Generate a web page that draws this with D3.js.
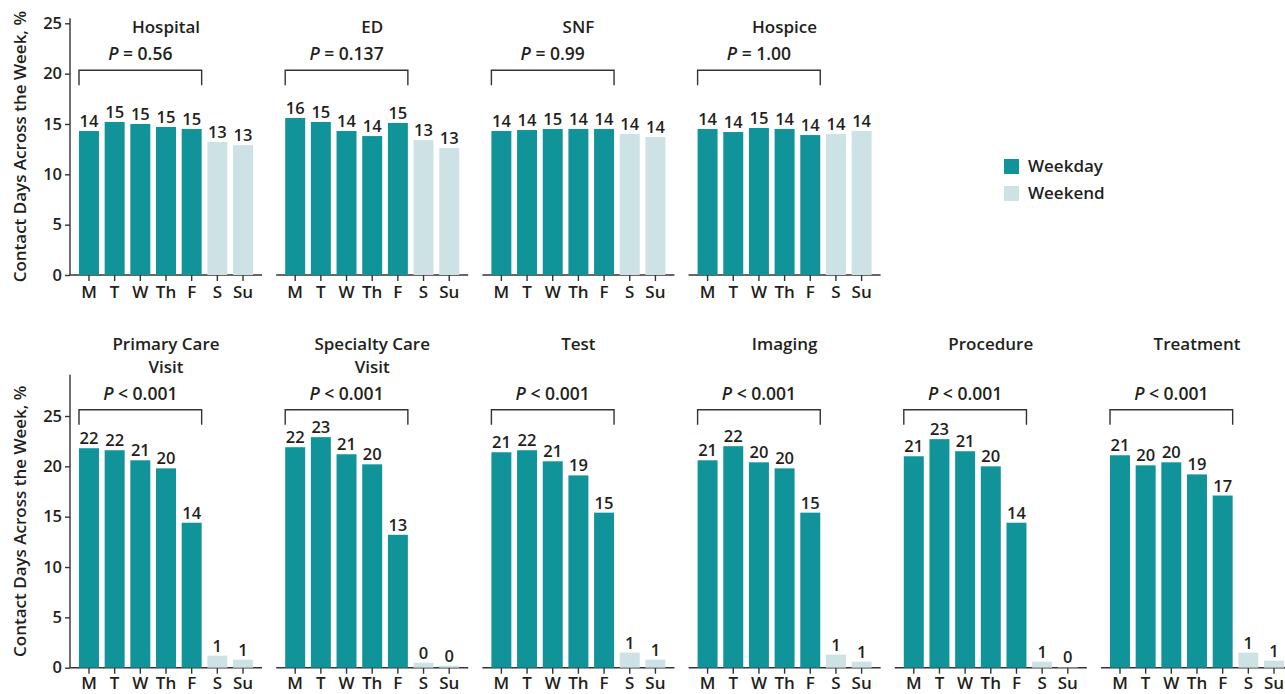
<!DOCTYPE html>
<html lang="en">
<head>
  <meta charset="UTF-8">
  <title>Contact Days Across the Week</title>
  <script src="https://d3js.org/d3.v7.min.js"></script>
  <style>
    body { margin: 0; background: #fff; }
    text { font-family: "Open Sans", "Noto Sans", sans-serif; fill: #231f20; }
    .axis path, .axis line { stroke: #333; stroke-width: 1.4; }
    .axis text { font-size: 16px; font-weight: 600; fill: #231f20; }
  </style>
</head>
<body>
  <script>
    const days = ["M", "T", "W", "Th", "F", "S", "Su"];
    const weekend = ["S", "Su"];
    const yTicks = [0, 5, 10, 15, 20, 25];

    const topTitles = [["Hospital"], ["ED"], ["SNF"], ["Hospice"]];
    const topP = ["= 0.56", "= 0.137", "= 0.99", "= 1.00"];
    const topValues = [
      [14.3, 15.2, 15.0, 14.7, 14.5, 13.2, 12.9],
      [15.6, 15.2, 14.3, 13.8, 15.1, 13.4, 12.6],
      [14.3, 14.4, 14.5, 14.5, 14.5, 14.0, 13.7],
      [14.5, 14.2, 14.6, 14.5, 13.9, 14.0, 14.3]
    ];
    const topLabels = [
      [14, 15, 15, 15, 15, 13, 13],
      [16, 15, 14, 14, 15, 13, 13],
      [14, 14, 15, 14, 14, 14, 14],
      [14, 14, 15, 14, 14, 14, 14]
    ];

    const bottomTitles = [["Primary Care", "Visit"], ["Specialty Care", "Visit"], ["Test"], ["Imaging"], ["Procedure"], ["Treatment"]];
    const bottomP = ["< 0.001", "< 0.001", "< 0.001", "< 0.001", "< 0.001", "< 0.001"];
    const bottomValues = [
      [21.8, 21.6, 20.6, 19.8, 14.4, 1.2, 0.8],
      [21.9, 22.9, 21.2, 20.2, 13.2, 0.5, 0.2],
      [21.4, 21.6, 20.5, 19.1, 15.4, 1.5, 0.8],
      [20.6, 22.0, 20.4, 19.8, 15.4, 1.3, 0.6],
      [21.0, 22.7, 21.5, 20.0, 14.4, 0.6, 0.05],
      [21.1, 20.1, 20.4, 19.2, 17.1, 1.5, 0.7]
    ];
    const bottomLabels = [
      [22, 22, 21, 20, 14, 1, 1],
      [22, 23, 21, 20, 13, 0, 0],
      [21, 22, 21, 19, 15, 1, 1],
      [21, 22, 20, 20, 15, 1, 1],
      [21, 23, 21, 20, 14, 1, 0],
      [21, 20, 20, 19, 17, 1, 1]
    ];

    const legendItems = ["Weekday", "Weekend"];
    const weekdayColor = "#11939a";
    const weekendColor = "#cde2e4";

    const width = 1285, height = 694;
    const panelX0 = 70, panelStep = 206.2, panelW = 192;

    const svg = d3.select("body").append("svg")
      .attr("width", width)
      .attr("height", height);

    const x = d3.scaleBand().domain(days).range([9, 183]).paddingInner(0.222).paddingOuter(0);

    function drawRow(titles, pTexts, values, labels, rowY) {
      const y = d3.scaleLinear().domain([0, 25]).range([rowY.base, rowY.top25]);

      // y axis on first panel only
      const yAxis = svg.append("g")
        .attr("class", "axis")
        .attr("transform", `translate(${panelX0},0)`)
        .call(d3.axisLeft(y).tickValues(yTicks).tickSize(5).tickPadding(3).tickSizeOuter(0));
      yAxis.select(".domain").remove();
      yAxis.append("line")
        .attr("x1", 0).attr("x2", 0)
        .attr("y1", y(0)).attr("y2", y(rowY.axisTop));
      yAxis.selectAll("text").style("font-size", "16.5px");

      svg.append("text")
        .attr("transform", `translate(26,${(y(0) + y(rowY.axisTop)) / 2}) rotate(-90)`)
        .attr("text-anchor", "middle")
        .style("font-size", "17px")
        .style("font-weight", 600)
        .text("Contact Days Across the Week, %");

      values.forEach((vals, i) => {
        const g = svg.append("g").attr("transform", `translate(${panelX0 + i * panelStep},0)`);

        const xAxis = g.append("g")
          .attr("class", "axis")
          .attr("transform", `translate(0,${y(0)})`)
          .call(d3.axisBottom(x).tickSize(6).tickPadding(rowY.xPad).tickSizeOuter(0));
        xAxis.select(".domain").remove();
        xAxis.append("line").attr("x1", 0).attr("x2", panelW);
        xAxis.selectAll("text").style("font-size", "17px");

        g.selectAll(".bar")
          .data(vals)
          .enter().append("rect")
            .attr("x", (d, j) => x(days[j]))
            .attr("y", d => y(d))
            .attr("width", x.bandwidth())
            .attr("height", d => y(0) - y(d))
            .attr("fill", (d, j) => weekend.includes(days[j]) ? weekendColor : weekdayColor);

        g.selectAll(".val")
          .data(vals)
          .enter().append("text")
            .attr("x", (d, j) => x(days[j]) + x.bandwidth() / 2)
            .attr("y", d => y(d) - 4)
            .attr("text-anchor", "middle")
            .style("font-size", "16.5px")
            .style("font-weight", 600)
            .text((d, j) => labels[i][j]);

        const cx = (x("M") + x("Su") + x.bandwidth()) / 2;
        titles[i].forEach((line, k) => {
          g.append("text")
            .attr("x", cx)
            .attr("y", rowY.title + k * 22.7)
            .attr("text-anchor", "middle")
            .style("font-size", "17px")
            .style("font-weight", 600)
            .text(line);
        });

        const bx0 = x("M"), bx1 = x("F") + x.bandwidth();
        g.append("path")
          .attr("d", `M${bx0},${rowY.bracket + 15}V${rowY.bracket}H${bx1}V${rowY.bracket + 15}`)
          .attr("fill", "none")
          .attr("stroke", "#333")
          .attr("stroke-width", 1.4);

        const pt = g.append("text")
          .attr("x", (bx0 + bx1) / 2)
          .attr("y", rowY.p)
          .attr("text-anchor", "middle")
          .style("font-size", "17.5px")
          .style("font-weight", 600);
        pt.append("tspan").style("font-style", "italic").text("P");
        pt.append("tspan").text(" " + pTexts[i]);
      });
    }

    drawRow(topTitles, topP, topValues, topLabels,
      { base: 275, top25: 23.3, axisTop: 25.5, title: 33, p: 60, bracket: 70.3, xPad: 5 });
    drawRow(bottomTitles, bottomP, bottomValues, bottomLabels,
      { base: 667.7, top25: 416, axisTop: 29.1, title: 350, p: 400, bracket: 409.7, xPad: 3 });

    // legend
    const legend = svg.append("g").attr("transform", "translate(1004,159)");
    legendItems.forEach((name, i) => {
      legend.append("rect")
        .attr("x", 0).attr("y", i * 27)
        .attr("width", 15).attr("height", 15)
        .attr("fill", i === 0 ? weekdayColor : weekendColor);
      legend.append("text")
        .attr("x", 24).attr("y", i * 27 + 13)
        .style("font-size", "17px")
        .style("font-weight", 600)
        .text(name);
    });
  </script>
</body>
</html>
